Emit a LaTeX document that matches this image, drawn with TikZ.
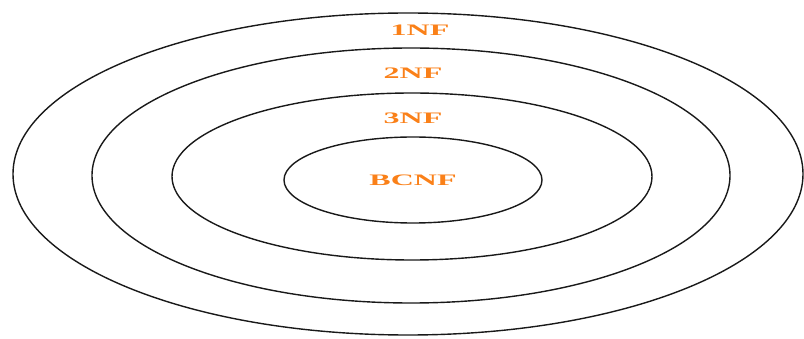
\documentclass[tikz,border=0pt]{standalone}
\usepackage{fontspec}
\setmainfont{Liberation Serif}
\usepackage{xcolor}
\usepackage{tikz}
\usetikzlibrary{shapes.geometric}
\definecolor{nforange}{RGB}{250,128,24}
\tikzset{
    ring/.style={ellipse,draw=black!90,line width=1.4pt,inner sep=0pt},
    nflabel/.style={text=nforange,font=\fontsize{16}{18}\selectfont\bfseries,xscale=2,inner sep=0pt}
}

\begin{document}
\begin{tikzpicture}[x=1pt,y=-1pt]
    \useasboundingbox (0,0) rectangle (804,339);
    \node[ring,minimum width=790pt,minimum height=322pt] (one) at (408,174) {};
    \node[ring,minimum width=638pt,minimum height=255pt] (two) at (411,175.5) {};
    \node[ring,minimum width=480pt,minimum height=167pt] (three) at (412,176.5) {};
    \node[ring,minimum width=258pt,minimum height=86pt] (bc) at (413,180) {};

    \node[nflabel] (lone) at (420,30) {1NF};
    \node[nflabel] (ltwo) at (413,73) {2NF};
    \node[nflabel] (lthree) at (413,118) {3NF};
    \node[nflabel] (lbc) at (bc.center) {BCNF};
\end{tikzpicture}
\end{document}
